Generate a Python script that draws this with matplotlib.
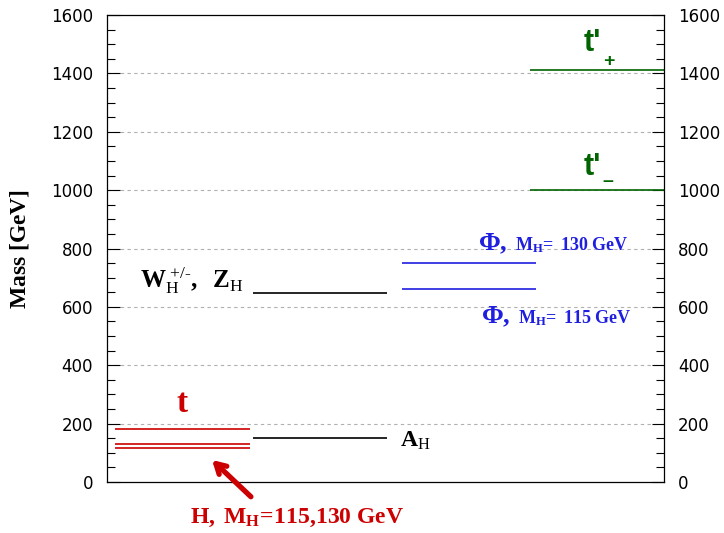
import matplotlib
matplotlib.use("Agg")
import matplotlib.pyplot as plt
from matplotlib.ticker import MultipleLocator

# ---- data (masses in GeV) ----
top_mass = [180]
higgs_masses = [115, 130]
wz_mass = [648]
ah_mass = [152]
phi_masses = [662, 749]          # M_H = 115, 130 GeV
tprime_minus = [1000]
tprime_plus = [1411]
yticks = [0, 200, 400, 600, 800, 1000, 1200, 1400, 1600]

RED = "#cc0000"
BLUE = "#1f1fe0"
GREEN = "#006400"

plt.rcParams["mathtext.fontset"] = "custom"
plt.rcParams["mathtext.rm"] = "Liberation Serif"
plt.rcParams["mathtext.bf"] = "Liberation Serif:bold"
plt.rcParams["mathtext.it"] = "Liberation Serif:italic"
plt.rcParams["font.family"] = ["Liberation Sans", "DejaVu Sans"]

fig = plt.figure(figsize=(7.24, 5.33), dpi=100)
ax = fig.add_axes([107/724, 1-482/533, 557/724, 467/533])
ax.set_xlim(0, 1)
ax.set_ylim(0, 1600)

# column extents (axes x fraction)
col_red = (0.0144, 0.257)
col_blk = (0.262, 0.503)
col_blue = (0.530, 0.770)
col_green = (0.760, 1.0)

for y in yticks[1:-1]:
    ax.axhline(y, color="#b0b0b0", lw=0.8, ls=(0, (3, 3)), zorder=0)

for m in top_mass:
    ax.hlines(m, *col_red, color=RED, lw=1.2)
for m in higgs_masses:
    ax.hlines(m, *col_red, color=RED, lw=1.2)
for m in ah_mass:
    ax.hlines(m, *col_blk, color="black", lw=1.2)
for m in wz_mass:
    ax.hlines(m, *col_blk, color="black", lw=1.2)
for m in phi_masses:
    ax.hlines(m, *col_blue, color=BLUE, lw=1.2)
for m in tprime_minus + tprime_plus:
    ax.hlines(m, *col_green, color=GREEN, lw=1.2)

# labels
ax.text(0.135, 240, r"$\mathbf{t}$", color=RED, fontsize=24, ha="center", va="baseline")
ax.text(0.149, -140, r"$\mathbf{H,\ M_{H}\!=\!115{,}130\ GeV}$", color=RED,
        fontsize=17, ha="left", va="baseline", clip_on=False)
ax.annotate("", xy=(0.185, 82), xytext=(0.262, -57),
            arrowprops=dict(arrowstyle="->,head_length=0.7,head_width=0.4",
                            color=RED, lw=3.8),
            annotation_clip=False)
ax.text(0.526, 120, r"$\mathbf{A}_{\mathrm{H}}$", color="black", fontsize=17,
        ha="left", va="baseline")
ax.text(0.060, 665, "$\\mathbf{W}_{\\mathrm{H}}^{\\ \\mathrm{+/\u2010}}\\mathbf{,\\ \\ Z}_{\\mathrm{H}}$",
        color="black", fontsize=18, ha="left", va="baseline")

ax.text(0.666, 795, r"$\mathbf{\Phi,}$", color=BLUE, fontsize=19, ha="left", va="baseline")
ax.text(0.733, 795, r"$\mathbf{M_{H}\!=\ 130\ GeV}$", color=BLUE, fontsize=13,
        ha="left", va="baseline")
ax.text(0.672, 545, r"$\mathbf{\Phi,}$", color=BLUE, fontsize=19, ha="left", va="baseline")
ax.text(0.738, 545, r"$\mathbf{M_{H}\!=\ 115\ GeV}$", color=BLUE, fontsize=13,
        ha="left", va="baseline")

ax.text(0.855, 1476, "t'", color=GREEN, fontsize=22, fontweight="bold", ha="left", va="baseline")
ax.text(0.890, 1439, "+", color=GREEN, fontsize=14, fontweight="bold", ha="left", va="center")
ax.text(0.855, 1052, "t'", color=GREEN, fontsize=22, fontweight="bold", ha="left", va="baseline")
ax.text(0.890, 1030, "\u2013", color=GREEN, fontsize=14, fontweight="bold", ha="left", va="center")

# axes styling
ax.set_yticks(yticks)
ax.yaxis.set_minor_locator(MultipleLocator(50))
ax.set_xticks([])
ax.tick_params(axis="y", which="major", direction="in", length=9, width=0.8,
               left=True, right=True, labelleft=True, labelright=True,
               labelsize=12, pad=10)
ax.tick_params(axis="y", which="minor", direction="in", length=5.5, width=0.8,
               left=True, right=True)
for lab in ax.get_yticklabels():
    lab.set_fontfamily("DejaVu Sans")
for s in ax.spines.values():
    s.set_linewidth(0.9)
ax.set_ylabel(r"$\mathbf{Mass\ [GeV]}$", fontsize=17, labelpad=14)

fig.savefig("out.png", dpi=100)
